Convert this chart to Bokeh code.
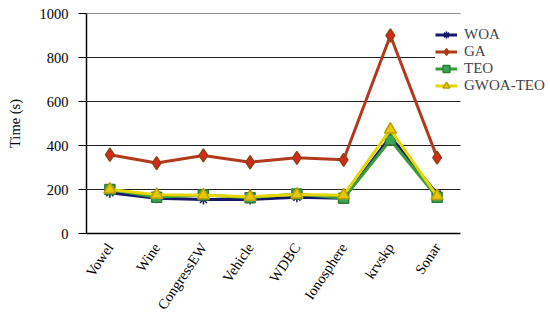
from bokeh.plotting import figure
from bokeh.models import Range1d, Legend, FixedTicker
from bokeh.embed import file_html
from bokeh.resources import INLINE

categories = ["Vowel", "Wine", "CongressEW", "Vehicle", "WDBC", "Ionosphere", "krvskp", "Sonar"]
woa = [185, 160, 155, 155, 165, 160, 440, 180]
ga = [358, 320, 355, 324, 344, 335, 900, 345]
teo = [200, 165, 175, 163, 180, 160, 425, 165]
gwoa_teo = [200, 176, 174, 167, 177, 174, 472, 170]
y_ticks = [0, 200, 400, 600, 800, 1000]

FONT = "Liberation Serif"

n = len(categories)
xs = list(range(1, n + 1))
W, H = 550, 328
LEFT, TOP, BOTTOM = 86, 13, 95
CAT_PX = 374  # pixel width occupied by the category axis
frame_w = W - LEFT
x_end = 0.5 + n * frame_w / CAT_PX

p = figure(width=W, height=H, x_range=Range1d(0.5, x_end), y_range=Range1d(0, 1000),
           output_backend="svg", toolbar_location=None,
           min_border_left=LEFT, min_border_right=0, min_border_top=TOP, min_border_bottom=BOTTOM)
p.outline_line_color = None
p.background_fill_color = "white"
p.xgrid.grid_line_color = None
p.ygrid.grid_line_color = None

# horizontal grid lines limited to the category span
grid_y = [t for t in y_ticks if t > 0]
p.segment(x0=[0.5] * len(grid_y), x1=[n + 0.5] * len(grid_y), y0=grid_y, y1=grid_y,
          line_color="#222222", line_width=1)

p.yaxis.ticker = FixedTicker(ticks=y_ticks)
p.yaxis.minor_tick_line_color = None
p.yaxis.major_tick_out = 8
p.yaxis.major_tick_in = 0
p.yaxis.major_label_standoff = 10
p.yaxis.axis_label = "Time (s)"
p.yaxis.axis_label_standoff = 14
p.yaxis.axis_label_text_font = FONT
p.yaxis.axis_label_text_font_style = "normal"
p.yaxis.axis_label_text_font_size = "14.5px"
p.yaxis.axis_label_text_color = "black"
p.yaxis.axis_line_width = 1.5
p.yaxis.axis_line_color = "black"

p.xaxis.ticker = FixedTicker(ticks=xs)
p.xaxis.major_label_overrides = {x: c for x, c in zip(xs, categories)}
p.xaxis.bounds = (0.5, n + 0.5)
p.xaxis.major_tick_line_color = None
p.xaxis.minor_tick_line_color = None
p.xaxis.major_label_orientation = 0.98
p.xaxis.axis_line_width = 1.5
p.xaxis.axis_line_color = "black"
p.xaxis.major_label_standoff = 5

for ax in (p.xaxis, p.yaxis):
    ax.major_label_text_font = FONT
    ax.major_label_text_font_size = "14.5px"
    ax.major_label_text_color = "black"

series = [
    ("WOA", woa, "#16166a", "asterisk", "#16166a", "#16166a", 10),
    ("GA", ga, "#b23a1c", "diamond", "#d8281a", "#8b4513", 13),
    ("TEO", teo, "#3b9a3f", "square", "#3aa655", "#2e7d32", 10),
    ("GWOA-TEO", gwoa_teo, "#e6d600", "triangle", "#e8c800", "#b8a000", 12),
]

items = []
for name, vals, lc, marker, fc, mlc, size in series:
    r1 = p.line(xs, vals, line_color=lc, line_width=3)
    r2 = p.scatter(xs, vals, marker=marker, fill_color=fc, line_color=mlc,
                   size=size, line_width=1.5)
    items.append((name, [r1, r2]))

legend = Legend(items=items, location=(349, 139))
legend.label_text_font = FONT
legend.label_text_font_size = "15px"
legend.glyph_width = 22
legend.glyph_height = 17
legend.label_height = 17
legend.label_standoff = 7
legend.spacing = 0
legend.padding = 2
legend.margin = 0
legend.border_line_color = None
legend.background_fill_color = "white"
legend.background_fill_alpha = 1
p.add_layout(legend, "center")

open("out.html", "w").write(file_html(p, INLINE))
